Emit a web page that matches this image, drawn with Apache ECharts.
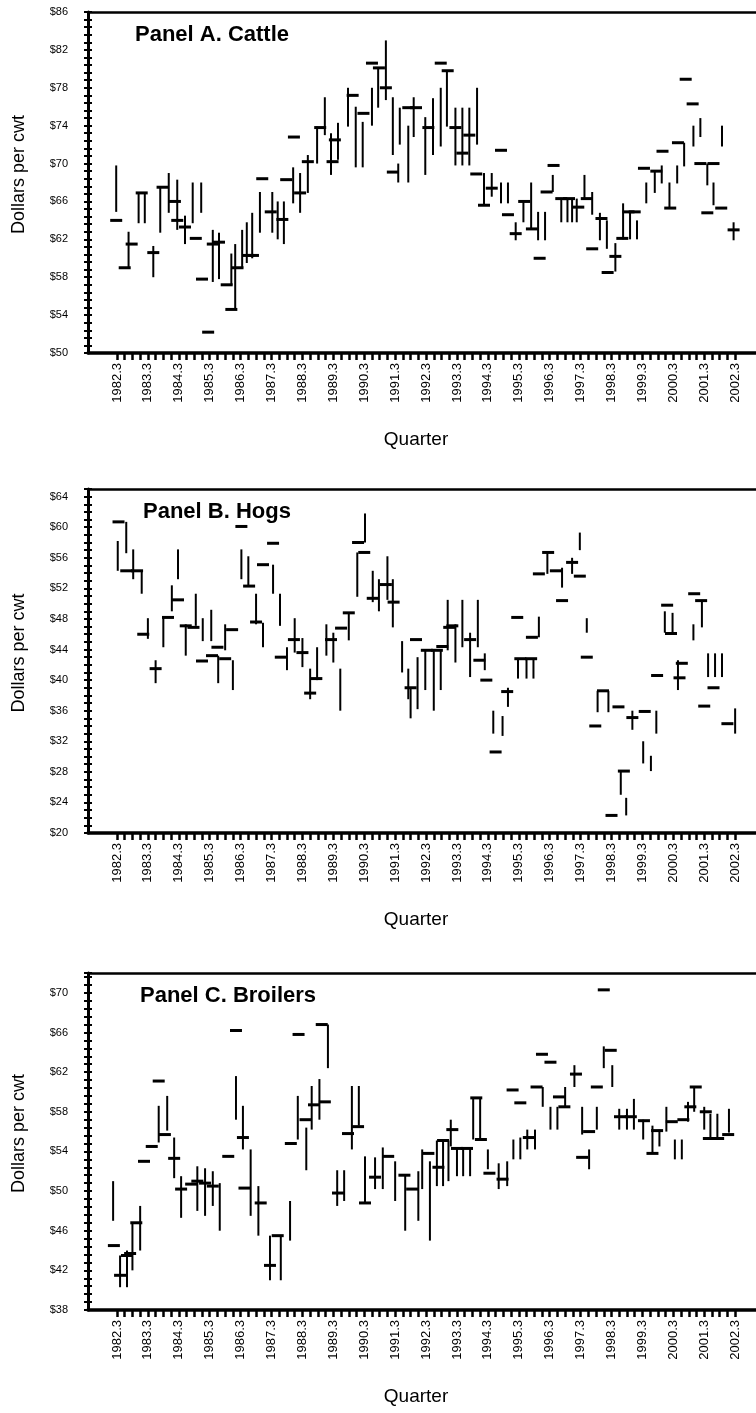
<!DOCTYPE html>
<html><head><meta charset="utf-8">
<script src="https://cdn.jsdelivr.net/npm/echarts@6/dist/echarts.min.js"></script>
<style>html,body{margin:0;padding:0;background:#fff}#c{width:756px;height:1413px}</style>
</head><body><div id="c"></div>
<script>
// x value = quarter index, 0 = 1982.3 (4 quarters per year)
const quarterTickLabels = ['1982.3','1983.3','1984.3','1985.3','1986.3','1987.3','1988.3','1989.3','1990.3','1991.3','1992.3','1993.3','1994.3','1995.3','1996.3','1997.3','1998.3','1999.3','2000.3','2001.3','2002.3'];

// Panel A. Cattle — vertical ranges [quarter, low, high] and horizontal marks [quarter, value]
const cattleRanges = [
[-0.1,64.9,69.8],[1.5,59.0,62.8],[2.8,63.7,66.9],[3.6,63.7,66.9],[4.7,58.0,61.3],[5.6,62.7,67.5],[6.7,64.8,69.0],[7.8,63.0,68.3],[8.8,61.5,64.5],[9.8,63.7,68.0],[10.9,64.8,68.0],
[12.4,57.5,63.0],[13.2,57.8,62.7],[14.8,57.2,60.5],[15.3,54.6,61.5],[16.2,59.0,63.0],[16.8,59.5,63.8],[17.5,60.0,64.8],[18.5,62.7,67.0],[20.1,62.7,67.0],[20.8,62.0,66.0],[21.6,61.5,66.0],
[22.8,65.8,69.6],[23.7,64.8,69.0],[24.7,66.9,70.9],[25.9,70.0,73.9],[26.9,73.0,77.0],[27.7,68.8,73.2],[28.6,70.4,74.3],[29.9,73.9,78.0],[30.9,69.6,76.0],[31.8,69.6,74.4],[33.0,74.0,78.0],
[33.8,75.9,80.0],[34.8,76.7,83.0],[35.7,70.9,77.0],[36.4,68.0,70.0],[36.6,72.0,75.9],[37.7,68.0,74.0],[38.4,72.8,77.0],[39.9,68.8,74.9],[40.9,70.9,76.9],[41.9,71.8,78.0],[42.7,73.9,79.8],
[43.8,69.8,75.9],[44.7,69.8,75.9],[45.6,69.8,75.9],[46.6,72.0,78.0],[47.5,65.6,69.0],[48.5,66.5,69.0],[49.7,65.8,68.0],[50.6,65.8,68.0],[51.6,61.9,63.8],[52.6,63.8,66.0],[53.6,63.0,68.0],
[54.5,61.9,64.9],[55.4,61.9,64.9],[56.4,67.0,68.8],[57.5,63.8,66.3],[58.3,63.8,66.3],[58.9,63.8,66.3],[59.5,63.8,66.3],[60.5,66.2,68.8],[61.5,64.6,67.0],[62.5,61.9,64.8],[63.4,61.0,64.0],
[64.5,58.6,61.6],[65.5,62.0,65.8],[66.4,62.0,64.9],[67.3,62.0,64.0],[68.5,65.8,68.0],[69.6,66.9,69.3],[70.5,67.9,69.8],[71.5,65.3,68.0],[72.5,67.9,69.8],[73.4,69.7,72.2],[74.6,71.8,74.0],
[75.5,72.8,74.8],[76.4,67.7,70.0],[77.2,65.6,68.0],[78.3,71.8,74.0],[79.8,61.9,63.8]
];
const cattleMarks = [
[-0.1,64.0],[1.0,59.0],[1.9,61.5],[3.2,66.9],[4.7,60.6],[5.9,67.5],[7.5,66.0],[7.8,64.0],[8.8,63.3],[10.2,62.1],[11.0,57.8],[11.8,52.2],[12.4,61.5],[13.2,61.7],[14.2,57.2],[14.8,54.6],
[15.6,59.0],[17.0,60.3],[17.6,60.3],[18.8,68.4],[19.9,64.9],[21.4,64.1],[21.9,68.3],[22.9,72.8],[23.7,66.9],[24.7,70.2],[26.3,73.8],[27.9,70.2],[28.2,72.5],[30.5,77.2],[31.9,75.3],
[33.0,80.6],[33.9,80.1],[34.8,78.0],[35.7,69.1],[37.7,75.9],[38.7,75.9],[40.3,73.8],[41.9,80.6],[42.8,79.8],[43.8,73.8],[44.7,71.1],[45.6,73.0],[46.5,68.9],[47.5,65.6],[48.5,67.4],
[49.7,71.4],[50.6,64.6],[51.6,62.6],[52.7,66.0],[53.7,63.1],[54.7,60.0],[55.6,67.0],[56.5,69.8],[57.5,66.3],[58.5,66.3],[59.7,65.4],[60.8,66.3],[61.5,61.0],[62.7,64.2],[63.5,58.5],
[64.5,60.2],[65.4,62.1],[66.2,64.9],[67.0,64.9],[68.2,69.5],[69.8,69.2],[70.6,71.3],[71.6,65.3],[72.6,72.2],[73.6,78.9],[74.5,76.3],[75.5,70.0],[77.2,70.0],[76.4,64.8],[78.2,65.3],[79.8,63.0]
];

// Panel B. Hogs
const hogRanges = [
[0.1,54.3,58.2],[1.2,56.6,60.7],[2.1,53.2,57.1],[3.2,51.3,54.3],[4.0,45.4,48.1],[5.0,39.6,42.6],[6.0,44.3,48.2],[7.1,49.0,52.4],[7.9,53.2,57.1],[8.9,43.2,47.3],[10.2,47.1,51.3],
[11.1,45.1,48.1],[12.2,45.1,49.2],[13.1,39.6,43.2],[14.0,43.9,47.3],[15.0,38.7,42.6],[16.1,53.2,57.1],[17.0,52.4,56.2],[18.0,47.3,51.3],[18.9,44.3,47.5],[20.2,51.3,55.1],[21.1,47.1,51.3],
[22.0,41.3,44.3],[23.0,43.6,48.1],[24.0,41.7,45.5],[25.0,37.5,41.5],[25.9,40.0,44.3],[27.1,43.2,47.3],[28.0,42.3,46.2],[28.9,36.0,41.5],[30.0,45.2,48.8],[31.1,50.9,56.7],[32.1,58.0,61.8],
[33.1,50.2,54.3],[33.9,49.0,53.2],[35.0,50.5,56.2],[35.7,46.9,53.2],[36.9,41.0,45.1],[37.7,37.5,41.5],[38.0,35.0,38.9],[38.9,36.2,43.0],[39.9,38.7,43.9],[41.0,36.0,43.9],[41.9,38.7,43.9],
[42.8,43.9,50.5],[43.8,42.3,47.3],[44.7,44.3,50.5],[45.7,40.4,46.2],[46.7,44.3,50.5],[47.6,41.3,43.5],[48.7,33.0,36.0],[49.9,32.7,35.3],[50.6,36.5,39.0],[51.9,40.2,42.8],[53.0,40.2,42.8],
[53.9,40.2,42.8],[54.6,45.6,48.3],[55.7,53.9,56.7],[57.6,52.1,54.7],[58.9,53.9,56.0],[59.9,57.0,59.3],[60.8,46.2,48.1],[62.2,35.8,38.6],[63.6,35.8,38.6],[65.2,25.0,28.1],[65.9,22.3,24.6],
[66.7,33.5,36.0],[68.1,29.1,32.0],[69.1,28.1,30.1],[69.8,33.0,36.0],[70.9,46.2,49.0],[71.9,46.0,48.8],[72.6,38.7,42.6],[74.6,45.2,47.3],[75.7,46.9,50.4],[76.5,40.4,43.5],[77.4,40.4,43.5],
[78.3,40.4,43.5],[80.0,33.0,36.3]
];
const hogMarks = [
[0.2,60.7],[1.2,54.3],[2.6,54.3],[3.4,46.0],[5.0,41.5],[6.6,48.2],[7.9,50.5],[8.9,47.1],[9.9,46.9],[11.0,42.5],[12.3,43.2],[13.0,44.3],[14.0,42.8],[14.9,46.6],[16.1,60.1],[17.1,52.3],
[18.0,47.6],[18.9,55.1],[20.2,57.9],[21.2,43.0],[22.9,45.3],[24.0,43.6],[25.0,38.3],[25.8,40.2],[27.7,45.3],[29.0,46.8],[30.0,48.8],[31.2,58.0],[32.0,56.7],[33.1,50.7],[34.8,52.5],
[35.8,50.2],[38.0,39.0],[38.7,45.3],[40.1,43.9],[41.4,43.9],[42.1,44.4],[43.0,46.9],[43.4,47.1],[45.7,45.3],[46.9,42.6],[47.8,40.0],[49.0,30.6],[50.5,38.5],[51.8,48.2],[52.2,42.8],
[53.6,42.8],[53.7,45.6],[54.6,53.9],[55.8,56.7],[56.8,54.3],[57.6,50.4],[58.9,55.4],[59.9,53.6],[60.8,43.0],[61.9,34.0],[62.9,38.6],[64.0,22.3],[64.9,36.5],[65.6,28.1],[66.7,35.1],
[68.3,35.9],[69.9,40.6],[71.2,49.8],[71.7,46.1],[72.8,40.3],[73.1,42.2],[74.7,51.3],[75.6,50.4],[76.0,36.6],[77.2,39.0],[79.0,34.3]
];

// Panel C. Broilers
const broilerRanges = [
[-0.5,47.0,51.0],[0.4,40.3,43.5],[1.3,40.3,44.0],[2.0,42.0,46.8],[3.0,44.0,48.5],[5.4,54.9,58.6],[6.5,56.1,59.6],[7.4,51.3,55.4],[8.3,47.3,51.5],[10.4,48.0,52.5],[11.4,47.5,52.3],
[12.4,48.5,52.0],[13.3,46.0,50.8],[15.4,57.2,61.6],[16.3,54.2,58.6],[17.3,47.5,54.2],[18.3,45.5,50.5],[19.8,41.0,45.5],[21.2,41.0,45.5],[22.4,45.0,49.0],[23.4,55.2,59.6],[24.5,52.1,56.4],
[25.2,56.2,60.6],[26.2,57.2,61.3],[27.3,62.4,66.8],[28.5,48.5,52.1],[29.4,49.0,52.1],[30.4,54.2,60.6],[31.3,56.6,60.6],[32.1,48.8,53.5],[33.4,50.2,53.4],[34.4,50.2,54.4],[36.0,49.0,53.0],
[37.3,46.0,51.6],[39.0,47.0,52.0],[39.5,50.2,54.2],[40.5,45.0,53.0],[41.4,50.5,55.1],[42.2,50.5,55.1],[42.9,51.0,55.1],[43.2,54.5,57.2],[44.0,51.5,54.3],[44.8,51.5,54.3],[45.7,51.5,54.3],
[46.1,55.2,59.4],[47.0,55.2,59.4],[48.0,52.2,54.2],[49.4,50.2,52.8],[50.5,50.5,53.0],[51.3,53.2,55.2],[52.2,53.2,55.4],[53.1,54.2,56.2],[54.1,54.2,56.2],[55.1,58.5,60.5],[56.1,56.2,58.5],
[57.0,56.2,58.5],[58.0,58.5,60.5],[59.2,60.5,62.7],[60.2,55.7,58.5],[61.1,52.2,54.2],[62.1,56.2,58.5],[63.0,62.4,64.6],[64.1,60.5,62.7],[65.0,56.2,58.3],[66.0,56.2,58.3],[66.9,56.2,59.3],
[68.1,55.2,57.2],[69.3,53.8,56.6],[70.2,54.5,56.2],[71.1,56.0,58.5],[72.2,53.2,55.2],[73.1,53.2,55.2],[73.9,57.0,59.0],[74.7,58.0,60.5],[76.0,56.2,58.5],[76.8,55.2,57.8],[77.7,55.2,57.8],
[79.2,55.9,58.3]
];
const broilerMarks = [
[-0.4,44.5],[0.4,41.5],[1.3,43.5],[1.7,43.7],[2.5,46.8],[3.5,53.0],[4.5,54.5],[5.4,61.1],[6.2,55.7],[7.4,53.3],[8.3,50.2],[9.6,50.7],[10.4,51.0],[11.4,50.8],[12.4,50.5],[14.4,53.5],
[15.4,66.2],[16.3,55.4],[16.5,50.3],[18.6,48.8],[19.8,42.5],[20.8,45.5],[22.5,54.8],[23.5,65.8],[24.4,57.2],[25.5,58.7],[26.5,66.8],[26.9,59.0],[28.6,49.8],[29.9,55.8],[31.2,56.5],
[32.1,48.8],[33.4,51.4],[35.1,53.5],[37.2,51.6],[38.2,50.2],[40.3,53.8],[41.6,52.4],[42.2,55.1],[43.4,56.2],[44.0,54.3],[45.3,54.3],[46.5,59.4],[47.1,55.2],[48.2,51.8],[49.9,51.2],
[51.2,60.2],[52.2,58.9],[53.3,55.4],[54.3,60.5],[55.0,63.8],[56.1,63.0],[57.2,59.5],[57.9,58.5],[59.4,61.8],[60.2,53.4],[61.1,56.0],[62.1,60.5],[63.0,70.3],[63.9,64.2],[65.1,57.5],
[66.5,57.5],[68.2,57.1],[69.3,53.8],[69.9,56.1],[71.8,57.0],[73.3,57.2],[74.2,58.5],[74.9,60.5],[76.2,58.0],[76.6,55.3],[77.8,55.3],[79.1,55.7]
];

const FONT = '"Liberation Sans", Arial, Helvetica, sans-serif';
const X_MIN = -3.75, X_MAX = 82.7;
const tickPositions = []; for (let i = 0; i <= 80; i++) tickPositions.push(i);
const labelPositions = quarterTickLabels.map((_, i) => i * 4);

const panels = [
  {title:'Panel A. Cattle', ranges:cattleRanges, marks:cattleMarks, yMin:50, yMax:86, minor:5, top:12, height:341, titleX:135},
  {title:'Panel B. Hogs', ranges:hogRanges, marks:hogMarks, yMin:20, yMax:65, minor:4, top:489, height:344, titleX:143},
  {title:'Panel C. Broilers', ranges:broilerRanges, marks:broilerMarks, yMin:38, yMax:72, minor:5, top:973, height:337, titleX:140}
];

const grid = [], xAxis = [], yAxis = [], series = [], graphic = [];
panels.forEach((p, i) => {
  grid.push({left:88, right:0, top:p.top, height:p.height, containLabel:false});
  xAxis.push({
    gridIndex:i, type:'value', min:X_MIN, max:X_MAX, position:'bottom',
    axisLine:{show:true, onZero:false, lineStyle:{color:'#000', width:3.5}},
    axisTick:{show:true, customValues:tickPositions, length:7, lineStyle:{color:'#000', width:2.5}},
    axisLabel:{show:true, customValues:labelPositions, rotate:90, margin:10, fontSize:13, color:'#000', fontFamily:FONT,
      formatter: v => quarterTickLabels[Math.round(v / 4)]},
    splitLine:{show:false}
  });
  xAxis.push({
    gridIndex:i, type:'value', min:X_MIN, max:X_MAX, position:'top',
    axisLine:{show:true, onZero:false, lineStyle:{color:'#000', width:2.5}},
    axisTick:{show:false}, axisLabel:{show:false}, splitLine:{show:false}
  });
  const yBase = {gridIndex:i, type:'value', min:p.yMin, max:p.yMax, interval:4, position:'left', splitLine:{show:false}};
  yAxis.push(Object.assign({}, yBase, {
    axisLine:{show:true, onZero:false, lineStyle:{color:'#000', width:3}},
    axisTick:{show:true, inside:false, length:4, lineStyle:{color:'#000', width:2}},
    minorTick:{show:true, splitNumber:p.minor, length:4, lineStyle:{color:'#000', width:2}},
    axisLabel:{show:true, margin:20, fontSize:11, color:'#000', fontFamily:FONT,
      formatter: v => ((v - p.yMin) % 4 === 0 ? '$' + v : '')}
  }));
  yAxis.push(Object.assign({}, yBase, {
    axisLine:{show:false, onZero:false},
    axisTick:{show:true, inside:true, length:4, lineStyle:{color:'#000', width:2}},
    minorTick:{show:true, splitNumber:p.minor, length:4, lineStyle:{color:'#000', width:2}},
    axisLabel:{show:false}
  }));
  series.push({
    type:'custom', xAxisIndex:i * 2, yAxisIndex:i * 2, data:p.ranges, encode:{x:0, y:[1, 2]}, silent:true,
    renderItem:(params, api) => {
      const x = api.value(0);
      const a = api.coord([x, api.value(1)]), b = api.coord([x, api.value(2)]);
      return {type:'line', shape:{x1:a[0], y1:a[1], x2:b[0], y2:b[1]}, style:{stroke:'#000', lineWidth:2}};
    }
  });
  series.push({
    type:'custom', xAxisIndex:i * 2, yAxisIndex:i * 2, data:p.marks, encode:{x:0, y:1}, silent:true,
    renderItem:(params, api) => {
      const c = api.coord([api.value(0), api.value(1)]);
      return {type:'line', shape:{x1:c[0] - 6, y1:c[1], x2:c[0] + 6, y2:c[1]}, style:{stroke:'#000', lineWidth:3}};
    }
  });
  const axisY = p.top + p.height;
  graphic.push({type:'text', x:p.titleX, y:p.top + 23, style:{text:p.title, font:'bold 22px ' + FONT, fill:'#000', textAlign:'left', textVerticalAlign:'middle', align:'left', verticalAlign:'middle'}});
  graphic.push({type:'text', x:19, y:p.top + p.height / 2 - 8, rotation:Math.PI / 2, style:{text:'Dollars per cwt', font:'18px ' + FONT, fill:'#000', textAlign:'center', textVerticalAlign:'middle', align:'center', verticalAlign:'middle'}});
  graphic.push({type:'text', x:416, y:axisY + 87, style:{text:'Quarter', font:'19px ' + FONT, fill:'#000', textAlign:'center', textVerticalAlign:'middle', align:'center', verticalAlign:'middle'}});
});

const chart = echarts.init(document.getElementById('c'), null, {renderer:'canvas'});
chart.setOption({backgroundColor:'#fff', animation:false, grid, xAxis, yAxis, series, graphic});
</script></body></html>
